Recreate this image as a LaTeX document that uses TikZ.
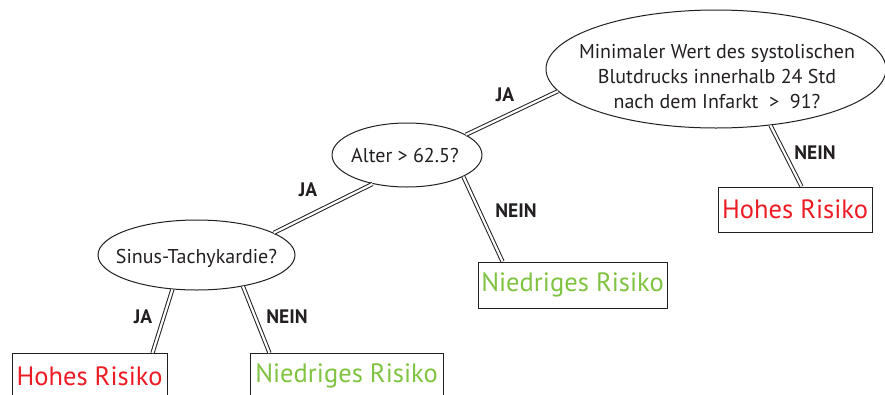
\documentclass[tikz,border=0pt]{standalone}
\usepackage{fontspec}
\setmainfont{PT Sans}
\usetikzlibrary{shapes.geometric}
\definecolor{ink}{RGB}{35,31,32}
\definecolor{riskhigh}{RGB}{237,28,36}
\definecolor{risklow}{RGB}{128,195,66}
\tikzset{
  question/.style={ellipse, draw=ink, line width=1pt, inner sep=0pt},
  qtext/.style={text=ink, font=\fontsize{20}{25}\selectfont, align=center},
  leaf/.style={rectangle, draw=ink, line width=1pt, inner sep=0pt,
    font=\fontsize{26.5}{30}\selectfont},
  branch/.style={draw=ink, double=white, line width=1pt, double distance=2.2pt},
  answer/.style={font=\bfseries\fontsize{19.5}{22}\selectfont, text=ink, inner sep=0pt}
}
\begin{document}
\begin{tikzpicture}[x=1pt,y=-1pt]
\useasboundingbox (0,0) rectangle (885,394);

% decision nodes
\node[question, minimum width=340pt, minimum height=118pt,
  label={[qtext, yshift=-8pt, xshift=1pt]center:Minimaler Wert des systolischen\\Blutdrucks innerhalb 24 Std\\nach dem Infarkt\ \ >\ \ 91?}]
  (q1) at (716,69) {};
\node[question, minimum width=150pt, minimum height=64pt,
  label={[qtext, xshift=-2pt]center:Alter > 62.5?}]
  (q2) at (407,155) {};
\node[question, minimum width=197pt, minimum height=70pt,
  label={[qtext, yshift=-3pt]center:Sinus-Tachykardie?}]
  (q3) at (196.5,255) {};

% outcome boxes
\node[leaf, minimum width=154pt, minimum height=45pt, text=riskhigh] (hr) at (795,209.5) {Hohes Risiko};
\node[leaf, minimum width=189pt, minimum height=46pt, text=risklow] (nm) at (572.5,285) {Niedriges Risiko};
\node[leaf, minimum width=155pt, minimum height=45pt, text=riskhigh, anchor=north] (hl) at (89.5,353) {Hohes Risiko};
\node[leaf, minimum width=193pt, minimum height=45pt, text=risklow, anchor=north] (nl) at (346.5,353) {Niedriges Risiko};

% branches
\draw[branch] (q1.188) -- (q2.19);
\draw[branch] (q1.314) -- ([xshift=84pt]hr.north west);
\draw[branch] (q2.220) -- (q3.16);
\draw[branch] (q2.339) -- ([xshift=25pt]nm.north west);
\draw[branch] (q3.235) -- ([xshift=-15pt]hl.north east);
\draw[branch] (q3.326) -- ([xshift=20pt]nl.north west);

% branch labels
\node[answer] (a1) at (505,95) {JA};
\node[answer] (a2) at (815,153) {NEIN};
\node[answer] (a3) at (308,190) {JA};
\node[answer] (a4) at (516,211) {NEIN};
\node[answer] (a5) at (143,317) {JA};
\node[answer] (a6) at (287,317) {NEIN};
\end{tikzpicture}
\end{document}
